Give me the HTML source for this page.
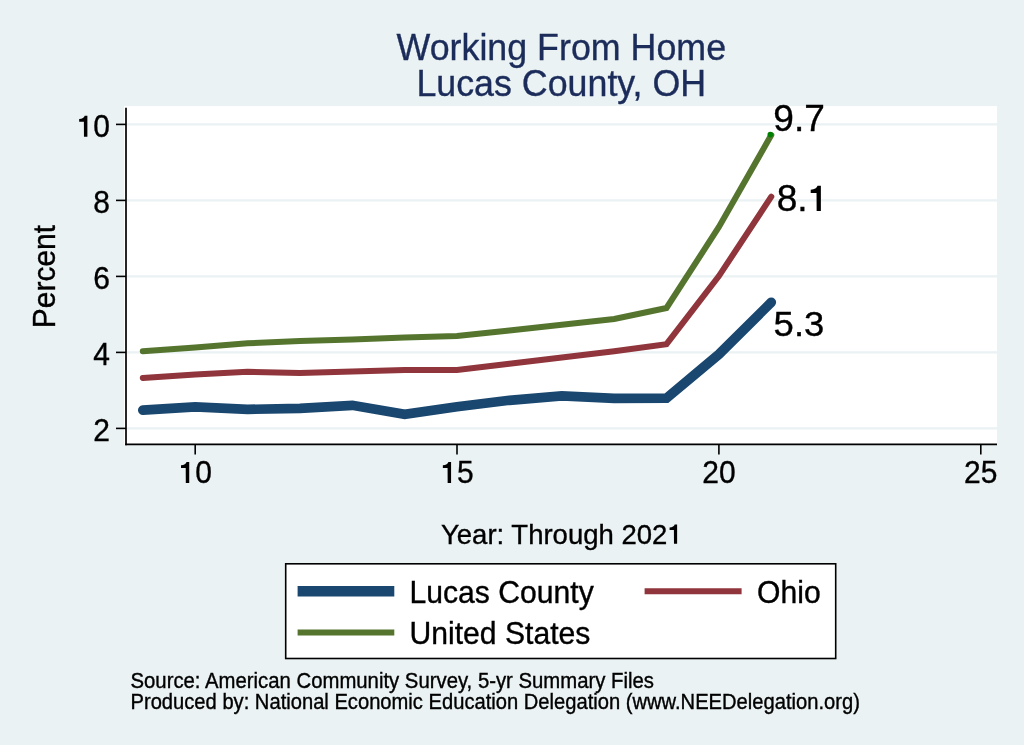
<!DOCTYPE html>
<html><head><meta charset="utf-8"><style>
html,body{margin:0;padding:0;background:#EAF2F3;}
svg{display:block;will-change:transform;font-family:"Liberation Sans",sans-serif;}
</style></head><body>
<svg width="1024" height="745" viewBox="0 0 1024 745">
<rect x="0" y="0" width="1024" height="745" fill="#EAF2F3"/>
<rect x="124" y="106.1" width="873" height="338.9" fill="#fff"/>
<line x1="126" x2="997" y1="428.4" y2="428.4" stroke="#EAF2F3" stroke-width="2.1"/><line x1="126" x2="997" y1="352.4" y2="352.4" stroke="#EAF2F3" stroke-width="2.1"/><line x1="126" x2="997" y1="276.4" y2="276.4" stroke="#EAF2F3" stroke-width="2.1"/><line x1="126" x2="997" y1="200.4" y2="200.4" stroke="#EAF2F3" stroke-width="2.1"/><line x1="126" x2="997" y1="124.4" y2="124.4" stroke="#EAF2F3" stroke-width="2.1"/>
<text transform="translate(561.3,60) scale(1,1.045)" text-anchor="middle" font-size="35.8" fill="#1C2C5A" stroke="#1C2C5A" stroke-width="0.35">Working From Home</text>
<text transform="translate(561.3,95.6) scale(1,1.045)" text-anchor="middle" font-size="35.8" fill="#1C2C5A" stroke="#1C2C5A" stroke-width="0.35">Lucas County, OH</text>
<polyline points="142.8,351.3 195.2,347.5 247.6,343.3 299.9,341.1 352.3,339.5 404.7,337.6 457.0,336.1 509.4,330.4 561.8,324.7 614.2,319.0 666.5,308.0 718.9,227.0 771.3,135.1" fill="none" stroke="#55752F" stroke-width="6" stroke-linejoin="miter" stroke-linecap="round"/>
<polyline points="142.8,377.9 195.2,374.5 247.6,371.8 299.9,373.0 352.3,371.4 404.7,369.9 457.0,369.9 509.4,363.8 561.8,357.4 614.2,351.3 666.5,344.1 718.9,276.1 771.3,196.7" fill="none" stroke="#90353B" stroke-width="6" stroke-linejoin="miter" stroke-linecap="round"/>
<polyline points="142.8,410.2 195.2,406.8 247.6,409.4 299.9,408.3 352.3,405.3 404.7,414.4 457.0,406.8 509.4,400.3 561.8,395.8 614.2,398.4 666.5,398.1 718.9,354.3 771.3,302.3" fill="none" stroke="#1A476F" stroke-width="9.7" stroke-linejoin="miter" stroke-linecap="round"/>
<circle cx="770.3" cy="134.6" r="2.8" fill="#008000"/>
<line x1="126" x2="126" y1="107.8" y2="445.2" stroke="#000" stroke-width="1.7"/>
<line x1="125.2" x2="997" y1="444.4" y2="444.4" stroke="#000" stroke-width="1.7"/>
<line x1="116" x2="126" y1="428.4" y2="428.4" stroke="#000" stroke-width="1.6"/><line x1="116" x2="126" y1="352.4" y2="352.4" stroke="#000" stroke-width="1.6"/><line x1="116" x2="126" y1="276.4" y2="276.4" stroke="#000" stroke-width="1.6"/><line x1="116" x2="126" y1="200.4" y2="200.4" stroke="#000" stroke-width="1.6"/><line x1="116" x2="126" y1="124.4" y2="124.4" stroke="#000" stroke-width="1.6"/><text transform="translate(93.37,440.75) scale(1.0,1.07)" font-size="30" stroke="#000" stroke-width="0.35">2</text><text transform="translate(93.37,364.75) scale(1.0,1.07)" font-size="30" stroke="#000" stroke-width="0.35">4</text><text transform="translate(93.37,288.75) scale(1.0,1.07)" font-size="30" stroke="#000" stroke-width="0.35">6</text><text transform="translate(93.37,212.75) scale(1.0,1.07)" font-size="30" stroke="#000" stroke-width="0.35">8</text><path transform="translate(76.68,136.75) scale(30.000,30.000)" fill="#000" d="M0.243,0 H0.357 V-0.70 H0.268 Q0.24,-0.605 0.083,-0.592 V-0.50 H0.24 Z"/><text transform="translate(93.37,136.75) scale(1.0,1.07)" font-size="30" stroke="#000" stroke-width="0.35">0</text><line x1="195.2" x2="195.2" y1="444.4" y2="454.6" stroke="#000" stroke-width="1.6"/><line x1="457.0" x2="457.0" y1="444.4" y2="454.6" stroke="#000" stroke-width="1.6"/><line x1="718.9" x2="718.9" y1="444.4" y2="454.6" stroke="#000" stroke-width="1.6"/><line x1="980.8" x2="980.8" y1="444.4" y2="454.6" stroke="#000" stroke-width="1.6"/><path transform="translate(178.52,483.00) scale(30.000,30.000)" fill="#000" d="M0.243,0 H0.357 V-0.70 H0.268 Q0.24,-0.605 0.083,-0.592 V-0.50 H0.24 Z"/><text transform="translate(195.20,483.00) scale(1.0,1.07)" font-size="30" stroke="#000" stroke-width="0.35">0</text><path transform="translate(440.37,483.00) scale(30.000,30.000)" fill="#000" d="M0.243,0 H0.357 V-0.70 H0.268 Q0.24,-0.605 0.083,-0.592 V-0.50 H0.24 Z"/><text transform="translate(457.05,483.00) scale(1.0,1.07)" font-size="30" stroke="#000" stroke-width="0.35">5</text><text transform="translate(702.22,483.00) scale(1.0,1.07)" font-size="30" stroke="#000" stroke-width="0.35">2</text><text transform="translate(718.90,483.00) scale(1.0,1.07)" font-size="30" stroke="#000" stroke-width="0.35">0</text><text transform="translate(964.07,483.00) scale(1.0,1.07)" font-size="30" stroke="#000" stroke-width="0.35">2</text><text transform="translate(980.75,483.00) scale(1.0,1.07)" font-size="30" stroke="#000" stroke-width="0.35">5</text>
<text transform="translate(773.30,131.00) scale(1.03,1.0)" font-size="36" stroke="#000" stroke-width="0.35">9</text><text transform="translate(793.92,131.00) scale(1.03,1.0)" font-size="36" stroke="#000" stroke-width="0.35">.</text><text transform="translate(804.23,131.00) scale(1.03,1.0)" font-size="36" stroke="#000" stroke-width="0.35">7</text>
<text transform="translate(776.70,211.00) scale(1.03,1.0)" font-size="36" stroke="#000" stroke-width="0.35">8</text><text transform="translate(797.32,211.00) scale(1.03,1.0)" font-size="36" stroke="#000" stroke-width="0.35">.</text><path transform="translate(807.63,211.00) scale(37.080,36.000)" fill="#000" d="M0.243,0 H0.357 V-0.70 H0.268 Q0.24,-0.605 0.083,-0.592 V-0.50 H0.24 Z"/>
<text transform="translate(773.60,336.30) scale(1.03,1.0)" font-size="35.4" stroke="#000" stroke-width="0.35">5</text><text transform="translate(793.88,336.30) scale(1.03,1.0)" font-size="35.4" stroke="#000" stroke-width="0.35">.</text><text transform="translate(804.01,336.30) scale(1.03,1.0)" font-size="35.4" stroke="#000" stroke-width="0.35">3</text>
<text transform="translate(54.8,276.6) rotate(-90) scale(1,1.07)" text-anchor="middle" font-size="30" stroke="#000" stroke-width="0.35">Percent</text>
<text x="667.3" y="543.8" text-anchor="end" font-size="27.5" stroke="#000" stroke-width="0.35">Year: Through 202</text><path transform="translate(667.30,543.80) scale(27.500,27.500)" fill="#000" d="M0.243,0 H0.357 V-0.70 H0.268 Q0.24,-0.605 0.083,-0.592 V-0.50 H0.24 Z"/>
<rect x="285.7" y="563.8" width="550" height="94.7" fill="#fff" stroke="#000" stroke-width="1.6"/>
<line x1="297.6" x2="394.3" y1="591.3" y2="591.3" stroke="#1A476F" stroke-width="10.5"/>
<line x1="644.6" x2="741.6" y1="591.2" y2="591.2" stroke="#90353B" stroke-width="6"/>
<line x1="297.6" x2="394.3" y1="632.6" y2="632.6" stroke="#55752F" stroke-width="6"/>
<text transform="translate(409.5,602.7) scale(1.005,1.04)" font-size="30" stroke="#000" stroke-width="0.35">Lucas County</text>
<text transform="translate(757,602.7) scale(1.005,1.04)" font-size="30" stroke="#000" stroke-width="0.35">Ohio</text>
<text transform="translate(409.5,644.2) scale(1.005,1.04)" font-size="30" stroke="#000" stroke-width="0.35">United States</text>
<text transform="translate(130.5,688) scale(1.006,1.05)" font-size="20.2" stroke="#000" stroke-width="0.35">Source: American Community Survey, 5-yr Summary Files</text>
<text transform="translate(130.5,708.8) scale(0.998,1.05)" font-size="20.2" stroke="#000" stroke-width="0.35">Produced by: National Economic Education Delegation (www.NEEDelegation.org)</text>
</svg>
</body></html>
